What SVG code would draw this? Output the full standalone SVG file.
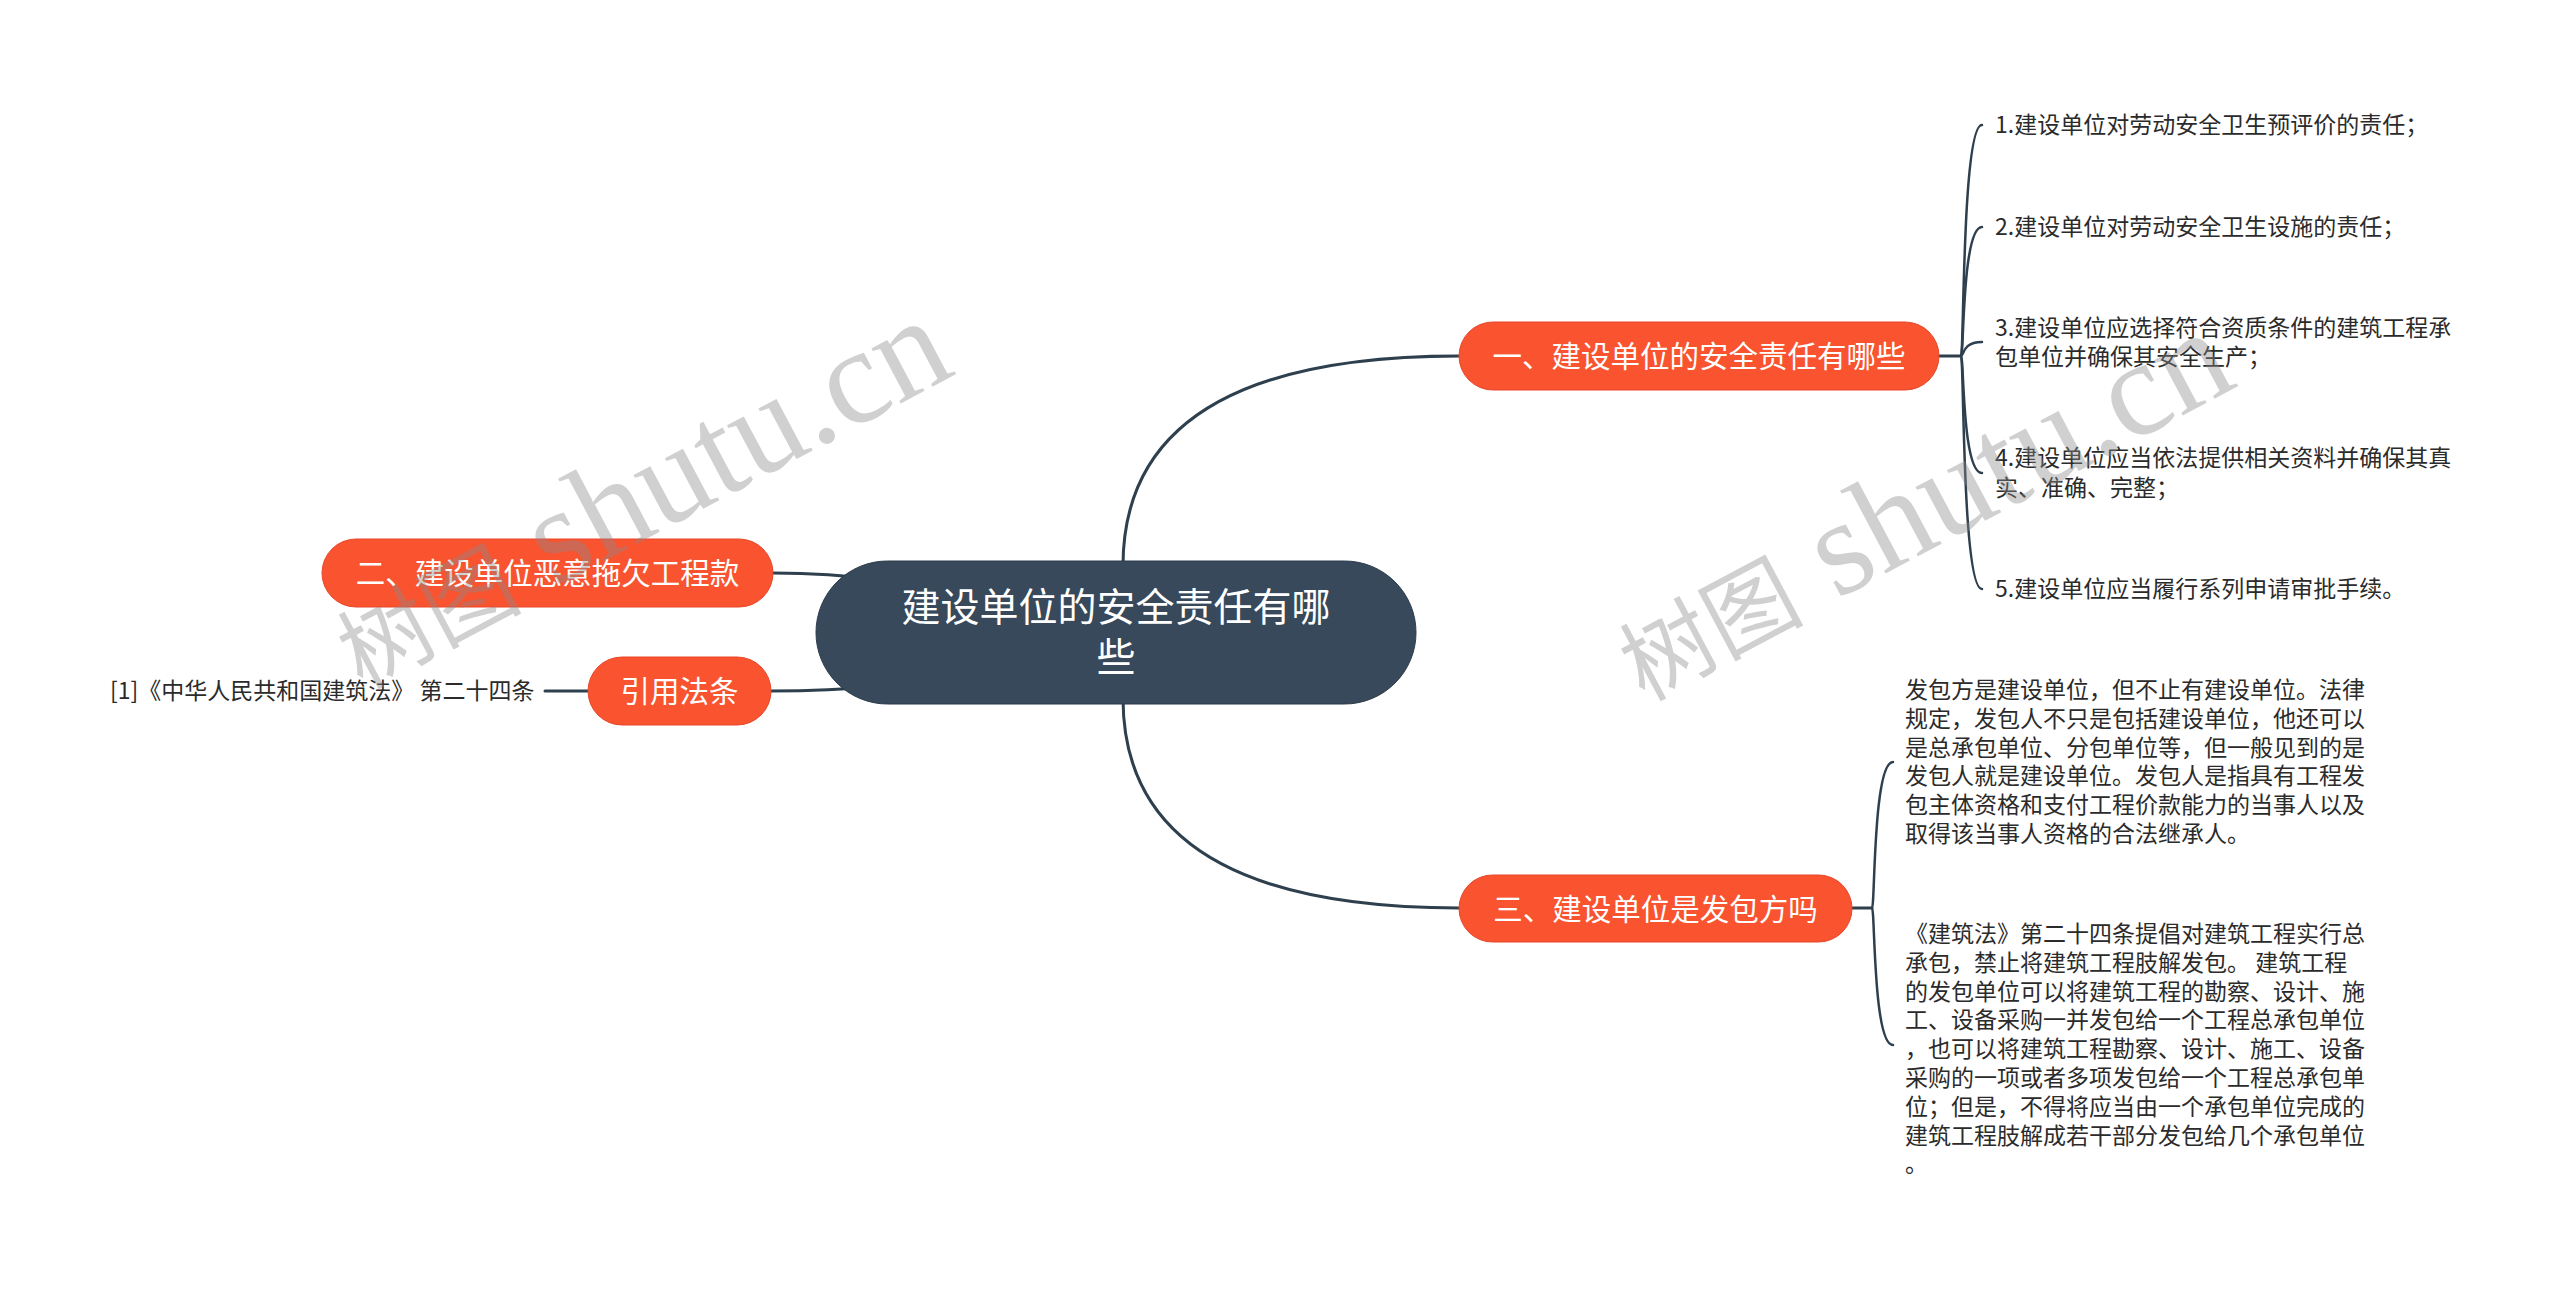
<svg xmlns="http://www.w3.org/2000/svg" width="2560" height="1297" viewBox="0 0 2560 1297">
<style>
.bg{fill:#ffffff}
.conn{fill:none;stroke:#2e3f4e;stroke-width:3;stroke-linecap:round}
.leafc{fill:none;stroke:#2e3f4e;stroke-width:2.5;stroke-linecap:round}
.root{fill:#37495a;stroke:#2c3b49;stroke-width:1}
.main{fill:#f9532f;stroke:#e8472a;stroke-width:1}
.rt{font-family:"Noto Sans CJK SC","Noto Sans",sans-serif;font-size:39px;fill:#ffffff;text-anchor:middle;dominant-baseline:central}
.mt{font-family:"Noto Sans CJK SC","Noto Sans",sans-serif;font-size:29.5px;fill:#ffffff;text-anchor:middle;dominant-baseline:central}
.lt{font-family:"Noto Sans CJK SC","Noto Sans",sans-serif;font-size:23px;fill:#2b2b2b;dominant-baseline:central}
.wm{font-family:"Liberation Serif","Noto Sans CJK SC",serif;fill:#8a8a8a;fill-opacity:0.4}
</style>
<rect class="bg" x="0" y="0" width="2560" height="1297"/>
<g id="connectors">
<path class="conn" d="M 1123 566 Q 1123 356 1459 356"/>
<path class="conn" d="M 1123 698 Q 1123 908 1459 908"/>
<path class="conn" d="M 773 573 Q 830 573 880 580"/>
<path class="conn" d="M 771 691 Q 830 691 880 686"/>
<path class="conn" d="M 545 691 L 588 691"/>
<path class="conn" d="M 1939 356 L 1961 356"/>
<path class="leafc" d="M 1961 356 C 1964 356 1962 125 1982 125"/>
<path class="leafc" d="M 1961 356 C 1964 356 1962 227 1982 227"/>
<path class="leafc" d="M 1961 356 C 1964 356 1962 342 1982 342"/>
<path class="leafc" d="M 1961 356 C 1964 356 1962 473 1982 473"/>
<path class="leafc" d="M 1961 356 C 1964 356 1962 589 1982 589"/>
<path class="conn" d="M 1852 908 L 1872 908"/>
<path class="leafc" d="M 1872 908 C 1875 908 1873 762 1893 762"/>
<path class="leafc" d="M 1872 908 C 1875 908 1873 1045 1893 1045"/>
</g>
<g id="root">
<rect class="root" x="816" y="561" width="600" height="143" rx="71.5"/>
<text class="rt" x="1116" y="604">建设单位的安全责任有哪</text>
<text class="rt" x="1116" y="654">些</text>
</g>
<g id="branch1">
<rect class="main" x="1459" y="322" width="480" height="68" rx="34"/>
<text class="mt" x="1699" y="354">一、建设单位的安全责任有哪些</text>
</g>
<g id="branch2">
<rect class="main" x="322" y="539" width="451" height="68" rx="34"/>
<text class="mt" x="547.5" y="571">二、建设单位恶意拖欠工程款</text>
</g>
<g id="branch3">
<rect class="main" x="1459" y="875" width="393" height="67" rx="33.5"/>
<text class="mt" x="1655.5" y="906.5">三、建设单位是发包方吗</text>
</g>
<g id="branch4">
<rect class="main" x="588" y="657" width="183" height="68" rx="34"/>
<text class="mt" x="679.5" y="689">引用法条</text>
</g>
<g id="ref1">
<text class="lt" x="110" y="689">[1]《中华人民共和国建筑法》 第二十四条</text>
</g>
<g id="leaf1"><text class="lt" x="1995" y="123">1.建设单位对劳动安全卫生预评价的责任；</text></g>
<g id="leaf2"><text class="lt" x="1995" y="225">2.建设单位对劳动安全卫生设施的责任；</text></g>
<g id="leaf3">
<text class="lt" x="1995" y="326">3.建设单位应选择符合资质条件的建筑工程承</text>
<text class="lt" x="1995" y="355">包单位并确保其安全生产；</text>
</g>
<g id="leaf4">
<text class="lt" x="1995" y="456">4.建设单位应当依法提供相关资料并确保其真</text>
<text class="lt" x="1995" y="486">实、准确、完整；</text>
</g>
<g id="leaf5"><text class="lt" x="1995" y="587">5.建设单位应当履行系列申请审批手续。</text></g>
<g id="leaf6">
<text class="lt" x="1905" y="688">发包方是建设单位，但不止有建设单位。法律</text>
<text class="lt" x="1905" y="716.8">规定，发包人不只是包括建设单位，他还可以</text>
<text class="lt" x="1905" y="745.6">是总承包单位、分包单位等，但一般见到的是</text>
<text class="lt" x="1905" y="774.4">发包人就是建设单位。发包人是指具有工程发</text>
<text class="lt" x="1905" y="803.2">包主体资格和支付工程价款能力的当事人以及</text>
<text class="lt" x="1905" y="832">取得该当事人资格的合法继承人。</text>
</g>
<g id="leaf7">
<text class="lt" x="1905" y="932">《建筑法》第二十四条提倡对建筑工程实行总</text>
<text class="lt" x="1905" y="960.8">承包，禁止将建筑工程肢解发包。 建筑工程</text>
<text class="lt" x="1905" y="989.6">的发包单位可以将建筑工程的勘察、设计、施</text>
<text class="lt" x="1905" y="1018.4">工、设备采购一并发包给一个工程总承包单位</text>
<text class="lt" x="1905" y="1047.2">，也可以将建筑工程勘察、设计、施工、设备</text>
<text class="lt" x="1905" y="1076">采购的一项或者多项发包给一个工程总承包单</text>
<text class="lt" x="1905" y="1104.8">位；但是，不得将应当由一个承包单位完成的</text>
<text class="lt" x="1905" y="1133.6">建筑工程肢解成若干部分发包给几个承包单位</text>
<text class="lt" x="1905" y="1162.4">。</text>
</g>
<g id="watermarks">
<text class="wm" transform="translate(362,690) rotate(-28)"><tspan font-size="92">树图</tspan><tspan font-size="136"> shutu.cn</tspan></text>
<text class="wm" transform="translate(1644,702) rotate(-28)"><tspan font-size="92">树图</tspan><tspan font-size="136"> shutu.cn</tspan></text>
</g>
</svg>
